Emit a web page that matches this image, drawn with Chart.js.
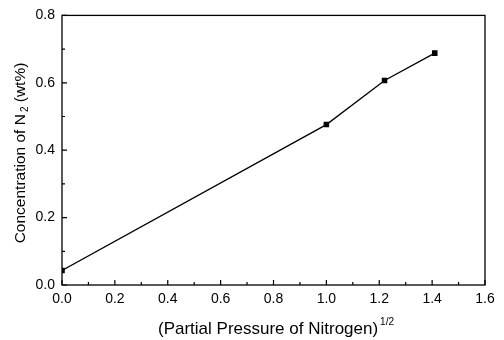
<!DOCTYPE html>
<html>
<head>
<meta charset="utf-8">
<script src="https://cdn.jsdelivr.net/npm/chart.js@4.4.0/dist/chart.umd.min.js"></script>
<style>
  html, body { margin:0; padding:0; background:#fff; }
  #wrap { width:504px; height:340px; position:relative; }
</style>
</head>
<body>
<div id="wrap"><canvas id="c"></canvas></div>
<script>
// data
const xVals = [0.0, 1.0, 1.22, 1.41];
const yVals = [0.043, 0.476, 0.607, 0.688];
const xTicks = [0, 0.2, 0.4, 0.6, 0.8, 1.0, 1.2, 1.4, 1.6];
const yTicks = [0, 0.2, 0.4, 0.6, 0.8];
const xTitle = '(Partial Pressure of Nitrogen)';
const xSup = '1/2';
const yTitleA = 'Concentration of N';
const ySub = '2';
const yTitleB = ' (wt%)';

const FONT = '"Liberation Sans", Arial, sans-serif';

// inward major/minor ticks, frame box, and axis titles with sub/superscripts
const frame = {
  id: 'frame',
  afterDraw(chart) {
    const { ctx, chartArea: a, scales: { x, y } } = chart;
    ctx.save();
    ctx.strokeStyle = '#000';
    ctx.lineWidth = 1.3;
    ctx.strokeRect(a.left, a.top, a.right - a.left, a.bottom - a.top);
    ctx.lineWidth = 1.2;
    ctx.beginPath();
    for (let i = 0; i <= 16; i++) {
      const v = i * 0.1, px = x.getPixelForValue(v), len = i % 2 ? 3 : 5;
      ctx.moveTo(px, a.bottom); ctx.lineTo(px, a.bottom - len);
    }
    for (let i = 0; i <= 8; i++) {
      const v = i * 0.1, py = y.getPixelForValue(v), len = i % 2 ? 3 : 5;
      ctx.moveTo(a.left, py); ctx.lineTo(a.left + len, py);
    }
    ctx.stroke();

    ctx.fillStyle = '#000';
    ctx.textBaseline = 'alphabetic';
    // x title
    ctx.font = '17px ' + FONT;
    const w1 = ctx.measureText(xTitle).width;
    ctx.font = '10px ' + FONT;
    const w2 = ctx.measureText(xSup).width;
    let sx = 276 - (w1 + w2 + 2) / 2;
    ctx.font = '17px ' + FONT;
    ctx.textAlign = 'left';
    ctx.fillText(xTitle, sx, 334);
    ctx.font = '10px ' + FONT;
    ctx.fillText(xSup, sx + w1 + 2, 325);
    // y title rotated
    ctx.translate(25, 153);
    ctx.rotate(-Math.PI / 2);
    ctx.font = '15.5px ' + FONT;
    const a1 = ctx.measureText(yTitleA).width, a3 = ctx.measureText(yTitleB).width;
    ctx.font = '10px ' + FONT;
    const a2 = ctx.measureText(ySub).width + 2;
    let tx = -(a1 + a2 + a3) / 2;
    ctx.font = '15.5px ' + FONT;
    ctx.fillText(yTitleA, tx, 0);
    ctx.font = '10px ' + FONT;
    ctx.fillText(ySub, tx + a1 + 2, 3);
    ctx.font = '15.5px ' + FONT;
    ctx.fillText(yTitleB, tx + a1 + a2, 0);
    ctx.restore();
  }
};

new Chart(document.getElementById('c'), {
  type: 'scatter',
  data: {
    datasets: [{
      data: xVals.map((v, i) => ({ x: v, y: yVals[i] })),
      showLine: true, borderColor: '#000', borderWidth: 1.3,
      pointStyle: 'rect', pointRadius: 3, pointBackgroundColor: '#000', pointBorderColor: '#000',
      tension: 0
    }]
  },
  options: {
    responsive: true, maintainAspectRatio: false, animation: false,
    layout: { padding: { left: 0, right: 19, top: 15, bottom: 0 } },
    plugins: { legend: { display: false }, tooltip: { enabled: false } },
    scales: {
      x: {
        type: 'linear', min: 0, max: 1.6,
        afterBuildTicks: s => { s.ticks = xTicks.map(v => ({ value: v })); },
        afterFit: s => { s.height = 55; },
        grid: { display: false, drawTicks: false },
        border: { display: false },
        ticks: { padding: 6, color: '#000', font: { size: 14, family: FONT }, callback: v => v.toFixed(1), maxRotation: 0, autoSkip: false }
      },
      y: {
        type: 'linear', min: 0, max: 0.8,
        afterBuildTicks: s => { s.ticks = yTicks.map(v => ({ value: v })); },
        afterFit: s => { s.width = 62; },
        grid: { display: false, drawTicks: false },
        border: { display: false },
        ticks: { padding: 7, color: '#000', font: { size: 14, family: FONT }, callback: v => v.toFixed(1), autoSkip: false }
      }
    }
  },
  plugins: [frame]
});
</script>
</body>
</html>
